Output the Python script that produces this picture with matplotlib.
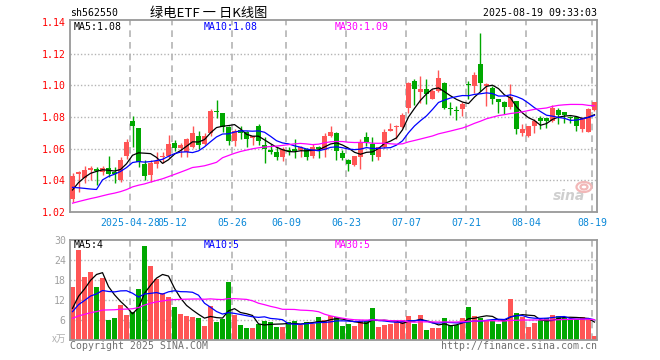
#!/usr/bin/env python3
"""Daily K-line chart for 562550 (green power ETF), sina style."""
import matplotlib

matplotlib.use("Agg")
import matplotlib.pyplot as plt
import numpy as np
import pandas as pd
from matplotlib.patches import Ellipse
from matplotlib.transforms import IdentityTransform

# trading days 0..87 = 2025-04-14 .. 2025-08-19
opens = [1.0283, 1.0439, 1.0412, 1.0464, 1.0466, 1.0453, 1.0476, 1.0453, 1.0401, 1.0551,
         1.0775, 1.0728, 1.0505, 1.0435, 1.0505, 1.0547, 1.0555, 1.0638, 1.0602, 1.0581,
         1.0613, 1.0677, 1.0629, 1.0696, 1.0835, 1.0824, 1.0734, 1.0646, 1.0719, 1.0703,
         1.0665, 1.0744, 1.0625, 1.0594, 1.0577, 1.0546, 1.0590, 1.0592, 1.0593, 1.0599,
         1.0551, 1.0613, 1.0593, 1.0682, 1.0696, 1.0574, 1.0531, 1.0495, 1.0547, 1.0676,
         1.0630, 1.0547, 1.0609, 1.0713, 1.0735, 1.0735, 1.0860, 1.1027, 1.0960, 1.0979,
         1.0917, 1.0965, 1.1017, 1.0860, 1.0846, 1.0850, 1.1006, 1.0996, 1.1135, 1.0996,
         1.0985, 1.0915, 1.0894, 1.0865, 1.0904, 1.0696, 1.0681, 1.0744, 1.0796, 1.0796,
         1.0775, 1.0842, 1.0831, 1.0800, 1.0800, 1.0723, 1.0708, 1.0842]
highs = [1.0447, 1.0460, 1.0493, 1.0493, 1.0485, 1.0493, 1.0551, 1.0485, 1.0547, 1.0661,
         1.0806, 1.0730, 1.0526, 1.0526, 1.0580, 1.0582, 1.0687, 1.0652, 1.0634, 1.0665,
         1.0744, 1.0713, 1.0698, 1.0849, 1.0908, 1.0826, 1.0744, 1.0724, 1.0744, 1.0713,
         1.0682, 1.0755, 1.0671, 1.0629, 1.0608, 1.0608, 1.0609, 1.0661, 1.0617, 1.0603,
         1.0630, 1.0617, 1.0696, 1.0744, 1.0703, 1.0589, 1.0537, 1.0555, 1.0661, 1.0707,
         1.0676, 1.0613, 1.0727, 1.0761, 1.0752, 1.0825, 1.1021, 1.1038, 1.1058, 1.1038,
         1.0975, 1.1100, 1.1021, 1.0892, 1.0871, 1.0896, 1.1027, 1.1083, 1.1329, 1.1013,
         1.0996, 1.0917, 1.0900, 1.1008, 1.0904, 1.0758, 1.0746, 1.0785, 1.0806, 1.0796,
         1.0879, 1.0854, 1.0831, 1.0806, 1.0806, 1.0800, 1.0858, 1.0896]
lows = [1.0265, 1.0329, 1.0381, 1.0401, 1.0370, 1.0433, 1.0422, 1.0381, 1.0391, 1.0536,
        1.0609, 1.0485, 1.0401, 1.0391, 1.0480, 1.0509, 1.0540, 1.0583, 1.0550, 1.0550,
        1.0602, 1.0598, 1.0625, 1.0682, 1.0797, 1.0703, 1.0625, 1.0619, 1.0661, 1.0613,
        1.0625, 1.0625, 1.0508, 1.0566, 1.0529, 1.0520, 1.0562, 1.0543, 1.0547, 1.0526,
        1.0543, 1.0543, 1.0547, 1.0676, 1.0526, 1.0526, 1.0460, 1.0489, 1.0470, 1.0620,
        1.0520, 1.0530, 1.0603, 1.0709, 1.0663, 1.0729, 1.0825, 1.0877, 1.0888, 1.0885,
        1.0912, 1.0960, 1.0850, 1.0812, 1.0781, 1.0804, 1.0913, 1.0954, 1.0965, 1.0871,
        1.0885, 1.0827, 1.0820, 1.0850, 1.0692, 1.0681, 1.0671, 1.0702, 1.0723, 1.0733,
        1.0771, 1.0754, 1.0765, 1.0765, 1.0712, 1.0708, 1.0703, 1.0838]
closes = [1.0426, 1.0453, 1.0464, 1.0478, 1.0462, 1.0476, 1.0439, 1.0439, 1.0526, 1.0644,
          1.0744, 1.0516, 1.0428, 1.0512, 1.0525, 1.0555, 1.0631, 1.0604, 1.0625, 1.0661,
          1.0696, 1.0625, 1.0682, 1.0835, 1.0829, 1.0738, 1.0646, 1.0713, 1.0698, 1.0661,
          1.0677, 1.0646, 1.0596, 1.0579, 1.0550, 1.0598, 1.0586, 1.0588, 1.0613, 1.0547,
          1.0613, 1.0599, 1.0682, 1.0707, 1.0584, 1.0543, 1.0501, 1.0551, 1.0645, 1.0645,
          1.0557, 1.0609, 1.0707, 1.0723, 1.0746, 1.0812, 1.1013, 1.0979, 1.0979, 1.0948,
          1.0965, 1.1048, 1.0860, 1.0850, 1.0835, 1.0881, 1.1000, 1.1065, 1.1017, 1.1006,
          1.0917, 1.0893, 1.0865, 1.0925, 1.0723, 1.0723, 1.0744, 1.0775, 1.0775, 1.0775,
          1.0858, 1.0812, 1.0810, 1.0792, 1.0744, 1.0796, 1.0848, 1.0894]
# volume, unit: 10k lots
volumes = [16.0, 27.0, 19.0, 20.4, 15.9, 18.7, 6.1, 6.7, 10.5, 7.5,
           8.5, 15.4, 28.3, 22.3, 18.3, 14.0, 13.0, 9.9, 7.8, 7.2,
           7.0, 6.6, 4.2, 10.3, 5.5, 6.3, 17.4, 7.5, 4.5, 3.7,
           3.7, 4.8, 5.8, 5.5, 4.0, 4.0, 5.5, 5.8, 4.5, 5.5,
           4.8, 7.0, 6.0, 7.2, 7.0, 4.2, 4.8, 4.2, 5.8, 5.8,
           9.6, 3.9, 4.5, 4.9, 5.5, 6.0, 7.2, 4.9, 7.5, 3.0,
           3.6, 3.6, 6.6, 4.5, 4.4, 6.6, 9.9, 7.2, 6.6, 6.0,
           5.7, 4.8, 5.8, 12.3, 8.1, 7.0, 4.0, 5.1, 6.0, 6.7,
           7.5, 7.2, 6.5, 6.2, 6.4, 6.9, 6.2, 1.2]

# days before the window (estimated, only used to start the moving averages)
pre_close = [1.015, 1.018, 1.020, 1.022, 1.019, 1.016, 1.021, 1.024, 1.026, 1.023,
             1.020, 1.018, 1.017, 1.021, 1.024, 1.022, 1.019, 1.020, 1.023, 1.024,
             1.048, 1.050, 1.052, 1.049, 0.987, 1.022, 1.030, 1.035, 1.040]
pre_vol = [5.2, 4.8, 5.6, 6.1, 5.0, 4.6, 5.3, 5.9, 6.4, 5.1,
           4.9, 5.7, 6.2, 5.4, 5.8, 5.0, 5.5, 6.0, 5.6, 5.9,
           6.0, 6.5, 7.0, 9.5, 8.5, 9.0, 8.0, 7.5, 7.0]

tick_idx = [10, 17, 27, 36, 46, 56, 66, 76, 87]
tick_text = ["2025-04-28", "05-12", "05-26", "06-09", "06-23",
             "07-07", "07-21", "08-04", "08-19"]
price_ticks = [1.02, 1.04, 1.06, 1.08, 1.10, 1.12, 1.14]
vol_ticks = [6, 12, 18, 24, 30]

RED = "#ff5555"
GREEN = "#00a800"
GRID = "#b4b4b4"
FRAME = "#999999"
XBLUE = "#0a88d8"
MONO = "DejaVu Sans Mono"
CJK = ["Noto Sans CJK SC", "DejaVu Sans"]
W, H = 660, 360


def ma(values, pre, n):
    s = pd.Series(list(pre) + list(values))
    return s.rolling(n).mean().to_numpy()[len(pre):]


def px(fig, x, y, s, **kw):
    # place text by pixel position (y from top)
    kw.setdefault("family", MONO)
    kw.setdefault("fontsize", 7.1)
    fig.text(x / W, 1 - y / H, s, **kw)


def frame(ax):
    for sp in ax.spines.values():
        sp.set_color(FRAME)
        sp.set_linewidth(1.3)
    ax.set_xlim(-0.42, 87.42)
    for t in tick_idx:
        ax.axvline(t - 0.35, color=GRID, lw=1.2, ls=(0, (4, 3)), zorder=0)


def main():
    fig = plt.figure(figsize=(W / 100, H / 100), dpi=100)
    ax = fig.add_axes([70 / W, 148 / H, 527 / W, 192 / H])
    axv = fig.add_axes([70 / W, 20 / H, 527 / W, 100 / H])

    x = np.arange(len(closes))
    o, hi, lo, c = (np.array(a) for a in (opens, highs, lows, closes))
    col = np.where(c >= o, RED, GREEN)

    frame(ax)
    for v in price_ticks[1:-1]:
        ax.axhline(v, color=GRID, lw=1, ls=(0, (1, 1.5)), zorder=0)
    ax.vlines(x, lo, hi, colors=col, lw=1, zorder=2)
    body = np.maximum(np.abs(c - o), 0.0007)
    ax.bar(x, body, bottom=np.minimum(o, c), width=0.8, color=col, lw=0, zorder=3)
    for n, lc in ((5, "black"), (10, "#0000ff"), (30, "#ff00ff")):
        ax.plot(x, ma(closes, pre_close, n), color=lc, lw=0.9, zorder=4)
    ax.set_ylim(1.02, 1.1413)
    ax.set_yticks(price_ticks, [f"{v:.2f}" for v in price_ticks],
                  family=MONO, fontsize=7.1)
    ax.tick_params(axis="y", length=0, pad=3, labelcolor="red")
    ax.set_xticks([t - 0.35 for t in tick_idx], tick_text, family=MONO, fontsize=7.1)
    ax.tick_params(axis="x", length=0, pad=4, labelcolor=XBLUE)

    # sina watermark
    ax.text(0.947, 0.045, "sina", transform=ax.transAxes, ha="center", va="bottom",
            fontsize=10, fontweight="bold", style="italic", color="#cfcfcf", zorder=1)
    for w_, h_ in ((15, 10), (7, 5)):
        fig.patches.append(Ellipse((584, H - 187), w_, h_, fill=False, ec="#f2b8b8",
                                   lw=1.6, transform=IdentityTransform()))

    frame(axv)
    for v in vol_ticks[:-1]:
        axv.axhline(v, color=GRID, lw=1, ls=(0, (1, 1.5)), zorder=0)
    axv.bar(x, volumes, width=0.83, color=col, lw=0, zorder=2)
    for n, lc in ((5, "black"), (10, "#0000ff"), (30, "#ff00ff")):
        axv.plot(x, ma(volumes, pre_vol, n), color=lc, lw=0.9, zorder=4)
    axv.set_ylim(0, 30)
    axv.set_yticks(vol_ticks, [str(v) for v in vol_ticks], family=MONO, fontsize=7.1)
    axv.tick_params(axis="y", length=0, pad=3, labelcolor="#a0a0a0")
    axv.set_xticks([])

    # header and labels
    px(fig, 70, 13, "sh562550", va="center")
    px(fig, 209, 13, "绿电ETF 一 日K线图", va="center", ha="center",
       family=CJK, fontsize=9.5)
    px(fig, 597, 13, "2025-08-19 09:33:03", va="center", ha="right")
    px(fig, 74, 27, "MA5:1.08", va="center")
    px(fig, 204, 27, "MA10:1.08", va="center", color="#0000ff")
    px(fig, 335, 27, "MA30:1.09", va="center", color="#ff00ff")
    px(fig, 74, 245, "MA5:4", va="center")
    px(fig, 204, 245, "MA10:5", va="center", color="#0000ff")
    px(fig, 335, 245, "MA30:5", va="center", color="#ff00ff")
    px(fig, 66, 339, "x万", va="center", ha="right", family=CJK, fontsize=7, color="#b0b0b0")
    px(fig, 70, 346, "Copyright 2025 SINA.COM", va="center", color="#707070")
    px(fig, 597, 346, "http://finance.sina.com.cn", va="center", ha="right", color="#707070")

    fig.savefig("out.png", dpi=100)
    plt.close(fig)


if __name__ == "__main__":
    main()
